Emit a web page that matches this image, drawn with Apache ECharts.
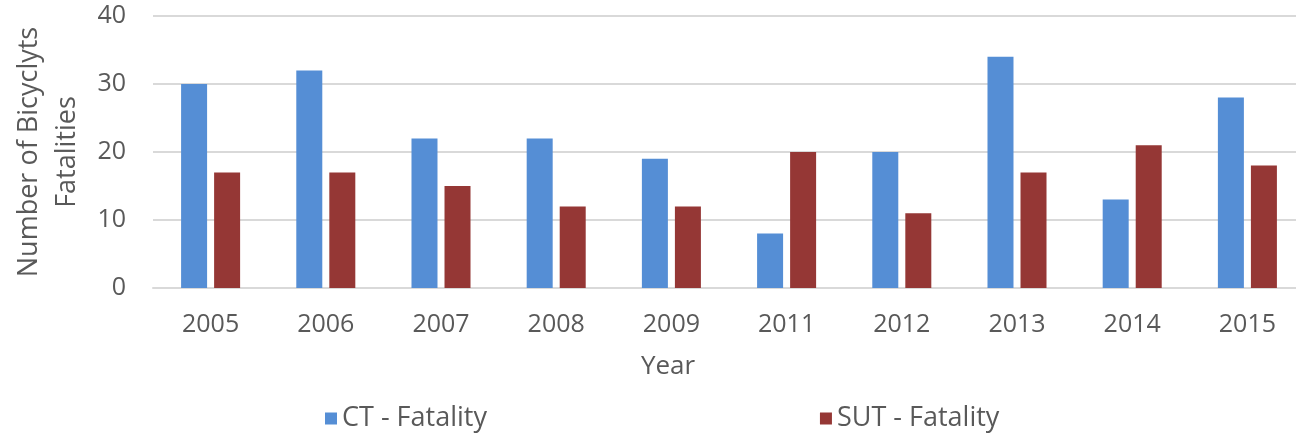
<!DOCTYPE html>
<html><head><meta charset="utf-8">
<script src="https://cdn.jsdelivr.net/npm/echarts@6/dist/echarts.min.js"></script>
<style>html,body{margin:0;padding:0;background:#fff}#c{width:1296px;height:435px}</style>
</head><body><div id="c"></div>
<script>
const categories = ['2005','2006','2007','2008','2009','2011','2012','2013','2014','2015'];
const ctFatality = [30, 32, 22, 22, 19, 8, 20, 34, 13, 28];
const sutFatality = [17, 17, 15, 12, 12, 20, 11, 17, 21, 18];
const yTicks = [0, 10, 20, 30, 40];

const font = 'Open Sans';
const txt = '#595959';
const chart = echarts.init(document.getElementById('c'));
chart.setOption({
  animation: false,
  textStyle: { fontFamily: font },
  grid: { left: 153, top: 16, width: 1152, height: 272, containLabel: false, outerBoundsMode: 'none' },
  legend: {
    left: 320, top: 400, itemWidth: 12, itemHeight: 12, itemGap: 333,
    icon: 'rect',
    textStyle: { fontFamily: font, fontSize: 27, color: txt },
    data: ['CT - Fatality', 'SUT - Fatality']
  },
  xAxis: {
    type: 'category', data: categories,
    name: 'Year', nameLocation: 'middle', nameGap: 66,
    nameTextStyle: { fontFamily: font, fontSize: 26, color: txt, padding: [0, 122, 0, 0] },
    axisLine: { lineStyle: { color: '#d9d9d9', width: 2 } },
    axisTick: { show: false },
    axisLabel: { fontFamily: font, fontSize: 25, color: txt, margin: 24 }
  },
  yAxis: {
    type: 'value', min: yTicks[0], max: yTicks[yTicks.length-1], interval: 10,
    name: 'Number of Bicyclyts\nFatalities', nameLocation: 'middle', nameGap: 63, nameRotate: 90,
    nameTextStyle: { fontFamily: font, fontSize: 27, color: txt, lineHeight: 38 },
    axisLine: { show: false }, axisTick: { show: false },
    splitLine: { lineStyle: { color: '#d9d9d9', width: 2 } },
    axisLabel: { fontFamily: font, fontSize: 25, color: txt, margin: 27 }
  },
  series: [
    { name: 'CT - Fatality', type: 'bar', data: ctFatality, barWidth: 26, barGap: '27%',
      itemStyle: { color: '#558ED5' } },
    { name: 'SUT - Fatality', type: 'bar', data: sutFatality, barWidth: 26, barGap: '27%',
      itemStyle: { color: '#953735' } }
  ]
});
</script></body></html>
